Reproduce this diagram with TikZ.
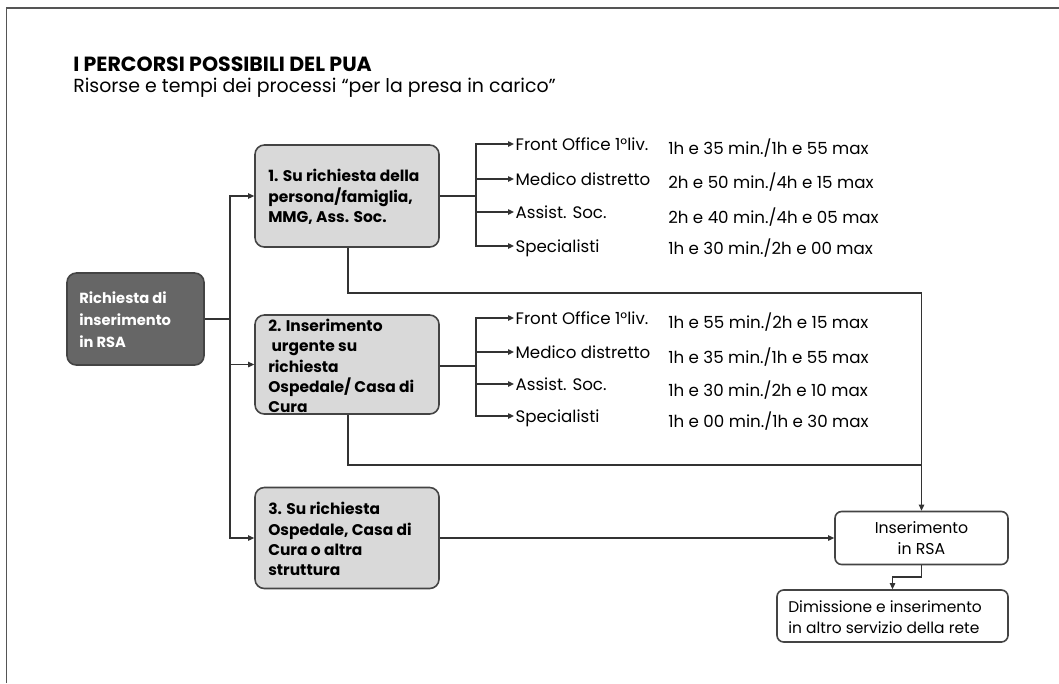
\documentclass[tikz,border=0pt]{standalone}
\usepackage{fontspec}
\setmainfont{Poppins}
\usetikzlibrary{arrows.meta}
\definecolor{ln}{HTML}{333333}
\definecolor{boxfill}{HTML}{D9D9D9}
\definecolor{darkfill}{HTML}{666666}
\definecolor{bd}{HTML}{444444}
\definecolor{framecol}{HTML}{555555}
\begin{document}
\begin{tikzpicture}[x=0.75pt,y=-0.75pt,
  conn/.style={draw=ln,line width=1pt},
  arr/.style={conn,-{Triangle[length=4.5pt,width=4pt]}},
  darkbox/.style={draw=bd,fill=darkfill,line width=1.2pt,rounded corners=7pt,inner sep=0pt},
  greybox/.style={draw=bd,fill=boxfill,line width=1.2pt,rounded corners=7pt,inner sep=0pt},
  whitebox/.style={draw=bd,fill=white,line width=1.2pt,rounded corners=5pt,inner sep=0pt},
  boxtext/.style={anchor=west,align=left,inner sep=0pt,font=\fontsize{11.6}{15.2}\selectfont\bfseries},
  lab/.style={anchor=west,inner sep=1pt,text height=2ex,text depth=.2ex,font=\fontsize{12.5}{14}\selectfont},
  tim/.style={anchor=west,inner sep=0pt,font=\fontsize{12.5}{14}\selectfont},
]
\useasboundingbox (0,0) rectangle (1059,683);
\draw[framecol,line width=1.1pt] (6.5,683) -- (6.5,8) -- (1059,8);

\node[anchor=west,inner sep=0pt,font=\fontsize{15.4}{18}\selectfont\bfseries] (title) at (73,64) {I PERCORSI POSSIBILI DEL PUA};
\node[anchor=west,inner sep=0pt,font=\fontsize{14.2}{17}\selectfont] (sub) at (73,88) {Risorse e tempi dei processi “per la presa in carico”};

% boxes
\node[darkbox,minimum width=102.75pt,minimum height=69pt] (req) at (135.5,319) {};
\node[boxtext,text=white,font=\fontsize{11}{16.5}\selectfont\bfseries] (reqt) at (79,320) {Richiesta di\\inserimento\\in RSA};

\node[greybox,minimum width=138pt,minimum height=76.5pt] (b1) at (347,196) {};
\node[boxtext] (b1t) at (268,197) {1. Su richiesta della\\persona/famiglia,\\MMG, Ass. Soc.};

\node[greybox,minimum width=138pt,minimum height=74.25pt] (b2) at (347,364.5) {};
\node[boxtext] (b2t) at (268,366) {2. Inserimento\\\ urgente su\\richiesta\\Ospedale/ Casa di\\Cura};

\node[greybox,minimum width=138pt,minimum height=75.75pt] (b3) at (347,538) {};
\node[boxtext] (b3t) at (268,539) {3. Su richiesta\\Ospedale, Casa di\\Cura o altra\\struttura};

\node[whitebox,minimum width=129.75pt,minimum height=39.75pt] (ins) at (921.5,538) {};
\node[align=center,inner sep=0pt,font=\fontsize{11.8}{15.5}\selectfont] (inst) at (921.5,538) {Inserimento\\in RSA};

\node[whitebox,minimum width=173.25pt,minimum height=39pt] (dim) at (892.5,616) {};
\node[anchor=west,align=left,inner sep=0pt,font=\fontsize{11.6}{15.75}\selectfont] (dimt) at (788,617) {Dimissione e inserimento\\in altro servizio della rete};

% main splitter
\coordinate (sp) at (230,319);
\draw[conn] (req.east) -- (sp);
\draw[arr] (sp) |- (b1.west);
\draw[arr] (sp) |- (b2.west);
\draw[arr] (sp) |- (b3.west);

% group 1
\coordinate (f1) at (476,196);
\draw[conn] (b1.east) -- (f1);
\node[lab] (l11) at (514,144) {Front Office 1°liv.};
\node[lab] (l12) at (514,179) {Medico distretto};
\node[lab] (l13) at (514,212) {Assist. Soc.};
\node[lab] (l14) at (514,246) {Specialisti};
\foreach \n in {l11,l12,l13,l14} \draw[arr] (f1) |- (\n.west);
\node[tim] (t11) at (668,148) {1h e 35 min./1h e 55 max};
\node[tim] (t12) at (668,182) {2h e 50 min./4h e 15 max};
\node[tim] (t13) at (668,217) {2h e 40 min./4h e 05 max};
\node[tim] (t14) at (668,248) {1h e 30 min./2h e 00 max};

% group 2
\coordinate (f2) at (476,366);
\draw[conn] (b2.east |- f2) -- (f2);
\node[lab] (l21) at (514,318) {Front Office 1°liv.};
\node[lab] (l22) at (514,352) {Medico distretto};
\node[lab] (l23) at (514,384) {Assist. Soc.};
\node[lab] (l24) at (514,416) {Specialisti};
\foreach \n in {l21,l22,l23,l24} \draw[arr] (f2) |- (\n.west);
\node[tim] (t21) at (668,322) {1h e 55 min./2h e 15 max};
\node[tim] (t22) at (668,357) {1h e 35 min./1h e 55 max};
\node[tim] (t23) at (668,390) {1h e 30 min./2h e 10 max};
\node[tim] (t24) at (668,421) {1h e 00 min./1h e 30 max};

% to Inserimento
\coordinate (j1) at (921.5,293);
\coordinate (j2) at (921.5,465);
\draw[conn] ([xshift=0.75pt]b1.south) |- (j1);
\draw[arr] (j1) -- (ins.north);
\draw[conn] ([xshift=0.75pt]b2.south) |- (j2);
\draw[arr] (b3.east) -- (ins.west);
\coordinate (k) at (921.5,577);
\draw[arr] (ins.south) -- (k) -| (dim.north);
\end{tikzpicture}
\end{document}
